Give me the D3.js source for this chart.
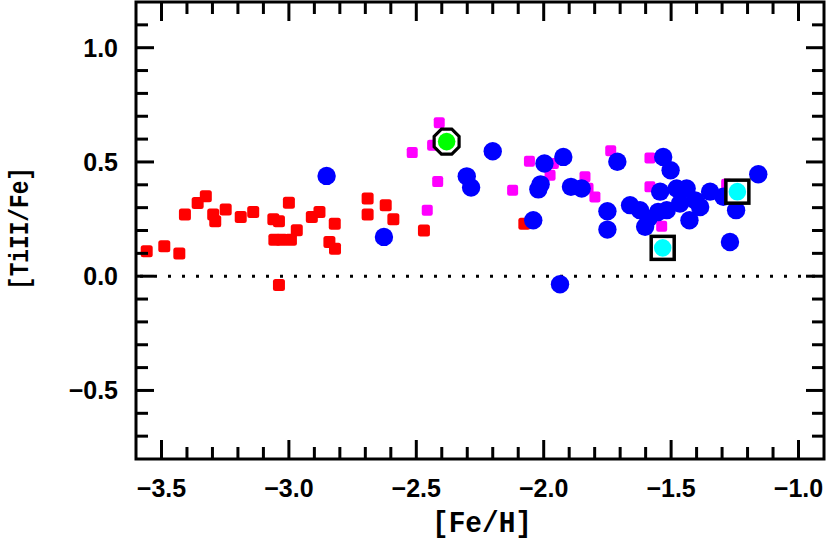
<!DOCTYPE html>
<html><head><meta charset="utf-8">
<script src="https://cdn.jsdelivr.net/npm/d3@7"></script>
<style>body{margin:0;background:#fff}svg{display:block}</style>
</head><body>
<svg id="c" width="830" height="543"></svg>
<script>
const redX=[-3.558,-3.489,-3.430,-3.408,-3.358,-3.326,-3.297,-3.289,-3.248,-3.189,-3.140,-3.061,-3.039,-3.000,-2.969,-3.057,-3.028,-2.992,-3.039,-2.910,-2.880,-2.820,-2.841,-2.819,-2.691,-2.691,-2.620,-2.590,-2.470,-2.076];
const redY=[0.109,0.131,0.099,0.270,0.320,0.350,0.270,0.241,0.292,0.259,0.281,0.249,0.241,0.321,0.201,0.160,0.160,0.160,-0.039,0.259,0.281,0.230,0.150,0.120,0.340,0.270,0.311,0.249,0.200,0.230];
const magX=[-2.410,-2.516,-2.436,-2.416,-2.457,-2.211,-2.122,-2.056,-1.962,-1.975,-1.838,-1.826,-1.799,-1.737,-1.583,-1.583,-1.537,-1.282];
const magY=[0.672,0.541,0.573,0.414,0.289,0.547,0.376,0.503,0.493,0.442,0.435,0.385,0.347,0.549,0.517,0.391,0.219,0.402];
const blueX=[-2.852,-2.627,-2.302,-2.285,-2.200,-2.041,-2.021,-2.012,-1.997,-1.936,-1.923,-1.893,-1.851,-1.750,-1.750,-1.711,-1.661,-1.622,-1.589,-1.602,-1.543,-1.517,-1.531,-1.502,-1.478,-1.439,-1.465,-1.406,-1.386,-1.428,-1.347,-1.295,-1.245,-1.158,-1.269,-1.551];
const blueY=[0.439,0.172,0.437,0.388,0.547,0.245,0.380,0.402,0.493,-0.035,0.522,0.391,0.384,0.284,0.204,0.501,0.311,0.289,0.252,0.216,0.370,0.289,0.522,0.464,0.384,0.384,0.318,0.332,0.303,0.245,0.370,0.348,0.289,0.446,0.150,0.281];
const greenX=[-2.381], greenY=[0.589];
const cyanX=[-1.533,-1.240], cyanY=[0.124,0.370];
const xTicks=[-3.5,-3.0,-2.5,-2.0,-1.5,-1.0];
const yTicks=[-0.5,0.0,0.5,1.0];

const svg=d3.select('#c');
const L=136,R=824,T=2,B=459;
const x=d3.scaleLinear().domain([-3.6,-0.9]).range([L,R]);
const y=d3.scaleLinear().domain([-0.8,1.2]).range([B,T]);
const tickFont='"Liberation Sans", Arial, sans-serif';
const zip=(a,b)=>a.map((v,i)=>[v,b[i]]);

// zero line
svg.append('line').attr('x1',x(-3.6)).attr('x2',x(-0.9)).attr('y1',y(0)).attr('y2',y(0))
  .attr('stroke','#000').attr('stroke-width',3).attr('stroke-dasharray','3,11').attr('stroke-dashoffset',-4);

// red squares
svg.append('g').selectAll('rect').data(zip(redX,redY)).join('rect')
  .attr('x',d=>x(d[0])-6).attr('y',d=>y(d[1])-6).attr('width',12).attr('height',12).attr('rx',2.5)
  .attr('fill','#ff0000');
// magenta squares
svg.append('g').selectAll('rect').data(zip(magX,magY)).join('rect')
  .attr('x',d=>x(d[0])-5.5).attr('y',d=>y(d[1])-5.5).attr('width',11).attr('height',11).attr('rx',2.2)
  .attr('fill','#ff00ff');
// blue circles
svg.append('g').selectAll('circle').data(zip(blueX,blueY)).join('circle')
  .attr('cx',d=>x(d[0])).attr('cy',d=>y(d[1])).attr('r',9.2).attr('fill','#0000ff');

// green with octagon outline
const oct=(cx,cy,r)=>d3.range(8).map(i=>{const a=Math.PI/8+i*Math.PI/4;return [cx+r*Math.cos(a),cy+r*Math.sin(a)];});
const gG=svg.append('g');
zip(greenX,greenY).forEach(d=>{
  const cx=x(d[0]),cy=y(d[1]);
  gG.append('polygon').attr('points',oct(cx,cy,13.5).map(p=>p.join(',')).join(' '))
    .attr('fill','#fff').attr('stroke','#000').attr('stroke-width',3.2);
  gG.append('circle').attr('cx',cx).attr('cy',cy).attr('r',8.8).attr('fill','#00ff00');
});
// cyan with square outline
const gC=svg.append('g');
zip(cyanX,cyanY).forEach(d=>{
  const cx=x(d[0]),cy=y(d[1]);
  gC.append('rect').attr('x',cx-11.5).attr('y',cy-11.5).attr('width',23).attr('height',23)
    .attr('fill','#fff').attr('stroke','#000').attr('stroke-width',3.5);
  gC.append('circle').attr('cx',cx).attr('cy',cy).attr('r',8.8).attr('fill','#00ffff');
});

// frame
svg.append('rect').attr('x',L).attr('y',T).attr('width',R-L).attr('height',B-T)
  .attr('fill','none').attr('stroke','#000').attr('stroke-width',3);

// ticks
const minorX=d3.range(-3.6,-0.899,0.1).map(v=>+v.toFixed(2));
const minorY=d3.range(-0.8,1.201,0.1).map(v=>+v.toFixed(2));
const isMaj=(v)=>Math.abs(v*2-Math.round(v*2))<1e-6;
const tk=svg.append('g').attr('stroke','#000').attr('stroke-width',3);
minorX.forEach(v=>{
  const len=isMaj(v)?19:12, px=x(v);
  if(px<=L+1||px>=R-1) return;
  tk.append('line').attr('x1',px).attr('x2',px).attr('y1',B).attr('y2',B-len);
  tk.append('line').attr('x1',px).attr('x2',px).attr('y1',T).attr('y2',T+len);
});
minorY.forEach(v=>{
  const len=isMaj(v)?18:12, py=y(v);
  if(py<=T+1||py>=B-1) return;
  tk.append('line').attr('x1',L).attr('x2',L+len).attr('y1',py).attr('y2',py);
  tk.append('line').attr('x1',R).attr('x2',R-len).attr('y1',py).attr('y2',py);
});

// tick labels
const fmt=v=>(v<0?'\u2212':'')+Math.abs(v).toFixed(1);
svg.append('g').selectAll('text').data(xTicks).join('text')
  .attr('x',d=>x(d)).attr('y',497).attr('text-anchor','middle')
  .attr('font-family',tickFont).attr('font-weight','bold').attr('font-size',25)
  .text(fmt);
svg.append('g').selectAll('text').data(yTicks).join('text')
  .attr('x',118).attr('y',d=>y(d)+9).attr('text-anchor','end')
  .attr('font-family',tickFont).attr('font-weight','bold').attr('font-size',25)
  .text(fmt);

// axis titles
const titleFont='"Liberation Mono","DejaVu Sans Mono",monospace';
svg.append('text').attr('x',432).attr('y',532).attr('textLength',100).attr('lengthAdjust','spacingAndGlyphs')
  .attr('font-family',titleFont).attr('font-weight','bold').attr('font-size',29).text('[Fe/H]');
svg.append('text').attr('transform','translate(28,290) rotate(-90)').attr('textLength',123).attr('lengthAdjust','spacingAndGlyphs')
  .attr('font-family',titleFont).attr('font-weight','bold').attr('font-size',27).text('[TiII/Fe]');
</script>
</body></html>
